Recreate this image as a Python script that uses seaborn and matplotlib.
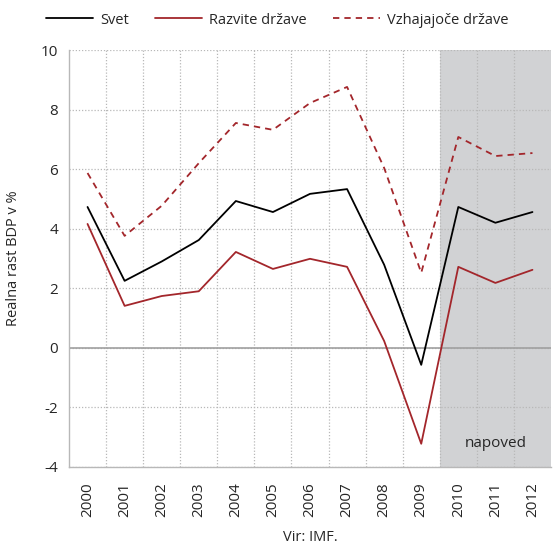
import numpy as np
import pandas as pd
import seaborn as sns
import matplotlib.pyplot as plt
from matplotlib.lines import Line2D

years = list(range(2000, 2013))
svet = [4.73, 2.25, 2.9, 3.62, 4.93, 4.56, 5.17, 5.33, 2.79, -0.57, 4.73, 4.2, 4.56]
razvite = [4.16, 1.41, 1.74, 1.9, 3.22, 2.65, 2.99, 2.72, 0.23, -3.22, 2.72, 2.18, 2.62]
vzhajajoce = [5.87, 3.76, 4.77, 6.2, 7.55, 7.32, 8.22, 8.76, 6.04, 2.52, 7.08, 6.44, 6.54]
series_names = ['Svet', 'Razvite države', 'Vzhajajoče države']

df = pd.DataFrame({'leto': years * 3,
                   'rast': svet + razvite + vzhajajoce,
                   'serija': np.repeat(series_names, len(years))})

sns.set_style('white')
plt.rcParams['font.family'] = ['Open Sans', 'DejaVu Sans']
plt.rcParams['axes.unicode_minus'] = False

red = '#a3262b'
fig = plt.figure(figsize=(5.53, 5.51), dpi=100)
ax = fig.add_axes([69 / 553, 1 - 467 / 551, 482 / 553, 417 / 551])

# obmocje napovedi
ax.axvspan(2009.5, 2012.5, color='#d1d2d4', zorder=0, lw=0)

sns.lineplot(data=df, x='leto', y='rast', hue='serija', style='serija',
             palette={'Svet': 'black', 'Razvite države': red, 'Vzhajajoče države': red},
             dashes={'Svet': '', 'Razvite države': '', 'Vzhajajoče države': (3.5, 2.8)},
             linewidth=1.3, ax=ax, legend=False, zorder=3)

ax.axhline(0, color='#a0a0a0', lw=1.2, zorder=2)

ax.set_xlim(1999.5, 2012.5)
ax.set_ylim(-4, 10)
ax.set_yticks(range(-4, 11, 2))
ax.set_xticks(years)
ax.set_xticklabels([str(y) for y in years], rotation=90)
ax.set_xticks(np.arange(2000.5, 2012, 1), minor=True)
ax.grid(False)
ax.yaxis.grid(True, color='#b8b8b8', linestyle=(0, (1, 1.5)), lw=0.9)
ax.xaxis.grid(True, which='minor', color='#b8b8b8', linestyle=(0, (1, 1.5)), lw=0.9)
ax.set_axisbelow(True)
ax.tick_params(axis='both', labelsize=11, length=0, pad=8)
ax.tick_params(axis='x', pad=11)
for s in ['top', 'right']:
    ax.spines[s].set_visible(False)
for s in ['left', 'bottom']:
    ax.spines[s].set_color('#b8b8b8')
    ax.spines[s].set_linewidth(1)

ax.set_xlabel('Vir: IMF.', fontsize=10.5, labelpad=9)
ax.set_ylabel('Realna rast BDP v %', fontsize=10.5, labelpad=14)

ax.text(2011.0, -3.2, 'napoved', fontsize=11, ha='center', va='center')

handles = [Line2D([], [], color='black', lw=1.3),
           Line2D([], [], color=red, lw=1.3),
           Line2D([], [], color=red, lw=1.3, linestyle=(0, (3.5, 2.8)))]
fig.legend(handles, series_names, loc='center', bbox_to_anchor=(0.502, 1 - 20 / 551),
           ncol=3, frameon=False, fontsize=10.5, handlelength=3.2, columnspacing=1.8,
           handletextpad=0.5)

plt.savefig('out.png', dpi=100)
